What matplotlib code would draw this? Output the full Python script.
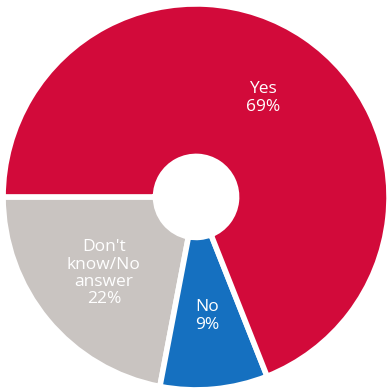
import numpy as np
import matplotlib.pyplot as plt

# Data
labels = ["Don't\nknow/No\nanswer", "No", "Yes"]
values = [22, 9, 69]
colors = ["#c9c4c1", "#1570c0", "#d20a3a"]

fig = plt.figure(figsize=(3.9, 3.9), dpi=100)
ax = fig.add_axes([0, 0, 1, 1])

wedges, _ = ax.pie(values, colors=colors, startangle=180, counterclock=True,
                   radius=1.0,
                   wedgeprops=dict(width=0.79, edgecolor="white", linewidth=4))

# labels inside wedges
for w, lab, v in zip(wedges, labels, values):
    ang = np.deg2rad((w.theta1 + w.theta2) / 2)
    r = 0.62
    ax.text(r * np.cos(ang), r * np.sin(ang), f"{lab}\n{v}%",
            ha="center", va="center", color="white", fontsize=12.5,
            family="Open Sans", linespacing=1.1)

ax.set_xlim(-1.016, 1.005)
ax.set_ylim(-1.0, 1.02)
ax.set_aspect("equal")
ax.axis("off")

fig.savefig("out.png", dpi=100)
